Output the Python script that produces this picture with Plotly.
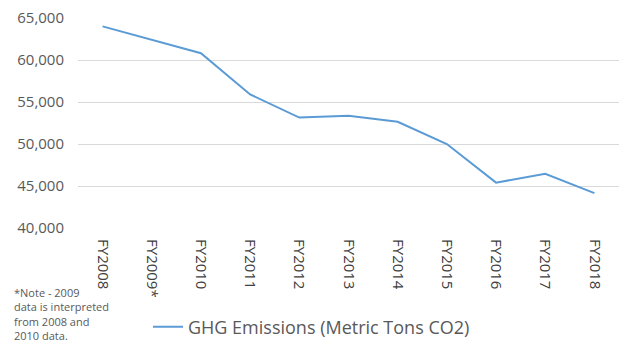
import plotly.graph_objects as go

categories = ["FY2008", "FY2009*", "FY2010", "FY2011", "FY2012", "FY2013",
              "FY2014", "FY2015", "FY2016", "FY2017", "FY2018"]
emissions = [64000, 62400, 60800, 55900, 53150, 53350, 52650, 50000, 45400, 46450, 44150]
y_ticks = [40000, 45000, 50000, 55000, 60000, 65000]
series_name = "GHG Emissions (Metric Tons CO2)"
note_text = "*Note - 2009<br>data is interpreted<br>from 2008 and<br>2010 data."

W, H = 628, 345
ML, MR, MT, MB = 78, 9, 18, 117
pw, ph = W - ML - MR, H - MT - MB

def px_x(x):
    return (x - ML) / pw

def px_y(y):
    return (H - MB - y) / ph

fig = go.Figure()
fig.add_trace(go.Scatter(
    x=categories, y=emissions, mode="lines", name=series_name,
    line=dict(color="#5b9bd5", width=2),
))

fig.update_layout(
    width=W, height=H,
    margin=dict(l=ML, r=MR, t=MT, b=MB, autoexpand=False),
    paper_bgcolor="white", plot_bgcolor="white",
    font=dict(family="Open Sans, sans-serif", color="#595959", size=12),
    showlegend=True,
    legend=dict(orientation="h", x=px_x(148), xanchor="left", y=px_y(327), yanchor="middle",
                font=dict(size=18, color="#595959"), bgcolor="rgba(0,0,0,0)"),
    xaxis=dict(type="category", showgrid=False, showline=False, zeroline=False,
               tickangle=90, ticks="", tickfont=dict(size=15, color="#404040"),
               ticklabelstandoff=10, range=[-0.5, 10.5], automargin=False),
    yaxis=dict(range=[40000, 65000], tickvals=y_ticks, tickformat=",",
               showgrid=True, gridcolor="#d9d9d9", gridwidth=1, zeroline=False,
               showline=False, ticks="", tickfont=dict(size=15, color="#595959"),
               ticklabelstandoff=13, automargin=False),
    annotations=[dict(text=note_text, x=px_x(12), y=px_y(283), xref="paper", yref="paper",
                      showarrow=False, align="left", xanchor="left", yanchor="top",
                      font=dict(size=11, color="#595959"))],
)

fig.write_html("out.html", config={"displayModeBar": False},
               post_script="document.body.style.margin='0';document.body.style.overflow='hidden';")
